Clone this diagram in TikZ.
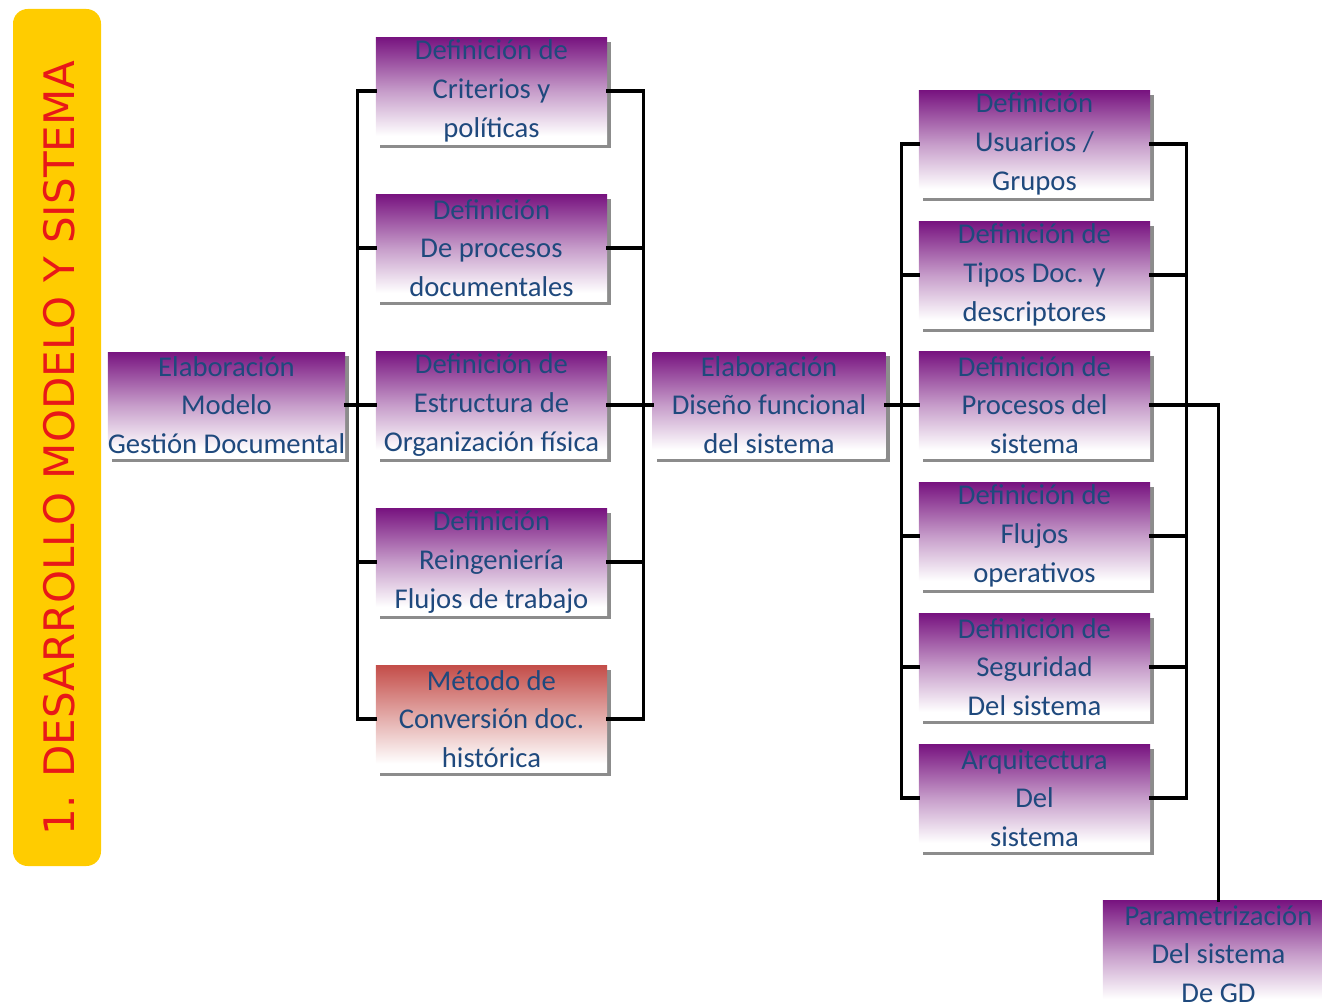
\documentclass[tikz,border=0pt]{standalone}
\usepackage{fontspec}
\setmainfont{Carlito}
\newfontfamily\barfont{DejaVu Sans}
\usetikzlibrary{shadows}
\definecolor{boxpurple}{RGB}{120,20,128}
\definecolor{boxred}{RGB}{196,78,74}
\definecolor{boxtext}{RGB}{31,73,125}
\definecolor{baryellow}{RGB}{255,204,0}
\definecolor{bartext}{RGB}{232,24,24}
% box fills: strong colour at the top, fading to white near the bottom
\pgfdeclareverticalshading{purplefade}{100bp}{color(0bp)=(white); color(29bp)=(white);
  color(50bp)=(boxpurple!42); color(75bp)=(boxpurple); color(100bp)=(boxpurple)}
\pgfdeclareverticalshading{redfade}{100bp}{color(0bp)=(white); color(29bp)=(white);
  color(50bp)=(boxred!45); color(75bp)=(boxred); color(100bp)=(boxred)}
\begin{document}
\begin{tikzpicture}[x=0.75pt,y=-0.75pt,
  card/.style={rectangle, draw=none, shading=purplefade,
    minimum width=173.5pt, minimum height=80pt, inner sep=0pt, align=center,
    text=boxtext, font=\fontsize{21.5}{29}\selectfont,
    general shadow={fill=black!45, shadow xshift=3pt, shadow yshift=-3pt}},
  widecard/.style={card, minimum width=174.75pt, minimum height=79.5pt},
  redcard/.style={card, shading=redfade},
  link/.style={line width=2.3pt, line cap=rect}]
\useasboundingbox (0,0) rectangle (1322,1006);
\clip (0,0) rectangle (1322,1006);

% vertical title bar
\node (bar) [rectangle, fill=baryellow, rounded corners=11pt,
  minimum width=66pt, minimum height=642.75pt, inner sep=0pt] at (57,437.5) {};
\node (title) [rotate=90, text=bartext, font=\barfont\fontsize{31.5}{36}\selectfont,
  inner sep=0pt] at (59,448) {1. DESARROLLO MODELO Y SISTEMA};

% first level
\node (A) [widecard] at (226.5,405) {Elaboración\\Modelo\\Gestión Documental};

% second level
\node (B1) [card] at (491.5,91)  {Definición de\\Criterios y\\políticas};
\node (B2) [card] at (491.5,248) {Definición\\De procesos\\documentales};
\node (B3) [card] at (491.5,405) {Definición de\\Estructura de\\Organización física};
\node (B4) [card] at (491.5,562) {Definición\\Reingeniería\\Flujos de trabajo};
\node (B5) [redcard] at (491.5,719) {Método de\\Conversión doc.\\histórica};

% third level
\node (C) [widecard] at (769,405) {Elaboración\\Diseño funcional\\del sistema};

% fourth level
\node (D1) [card] at (1034.5,144) {Definición\\Usuarios /\\Grupos};
\node (D2) [card] at (1034.5,275) {Definición de\\Tipos Doc. y\\descriptores};
\node (D3) [card] at (1034.5,405) {Definición de\\Procesos del\\sistema};
\node (D4) [card] at (1034.5,536) {Definición de\\Flujos\\operativos};
\node (D5) [card] at (1034.5,667) {Definición de\\Seguridad\\Del sistema};
\node (D6) [card] at (1034.5,798) {Arquitectura\\Del\\sistema};

% last step
\node (E) [card] at (1218.5,954) {Parametrización\\Del sistema\\De GD};

% connectors: model -> definitions
\draw[link] (A.east) -- (B3.west);
\draw[link] (B1.west) -- ++(-18,0) |- (B5.west);
\draw[link] (B2.west) -- ++(-18,0);
\draw[link] (B4.west) -- ++(-18,0);

% definitions -> functional design
\draw[link] (B1.east) -- ++(36,0) |- (B5.east);
\draw[link] (B2.east) -- ++(36,0);
\draw[link] (B4.east) -- ++(36,0);
\draw[link] (B3.east) -- (C.west);

% functional design -> system definitions
\draw[link] (C.east) -- (D3.west);
\draw[link] (D1.west) -- ++(-17,0) |- (D6.west);
\draw[link] (D2.west) -- ++(-17,0);
\draw[link] (D4.west) -- ++(-17,0);
\draw[link] (D5.west) -- ++(-17,0);

% right-hand bus of system definitions
\draw[link] (D1.east) -- ++(36,0) |- (D6.east);
\draw[link] (D2.east) -- ++(36,0);
\draw[link] (D4.east) -- ++(36,0);
\draw[link] (D5.east) -- ++(36,0);

% processes -> parametrization
\draw[link] (D3.east) -| (E.north);
\end{tikzpicture}
\end{document}
